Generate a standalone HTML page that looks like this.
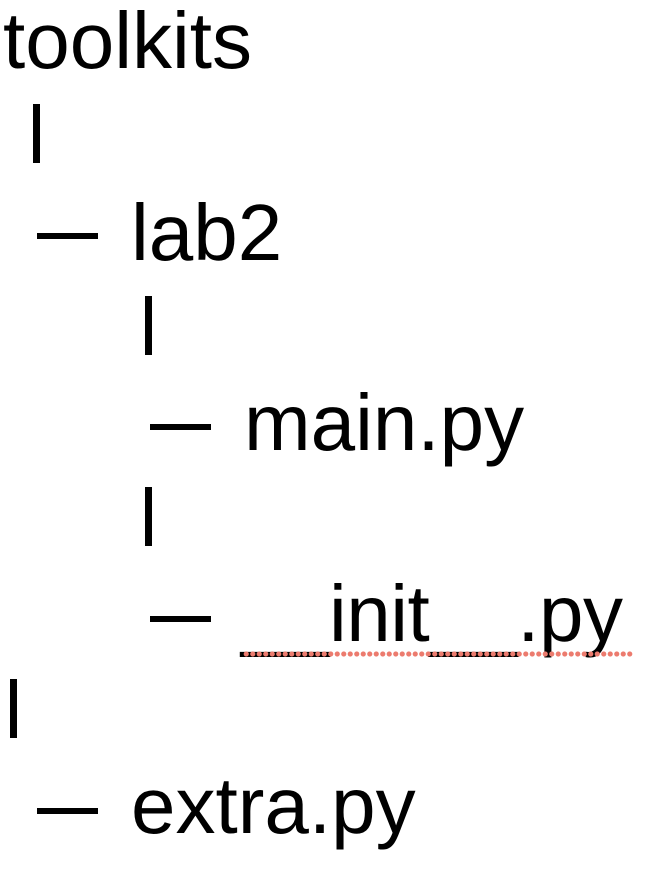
<!DOCTYPE html>
<html><head><meta charset="utf-8"><style>
html,body{margin:0;padding:0;background:#fff;width:658px;height:870px;overflow:hidden;position:relative}
.t{position:absolute;font-family:"Liberation Sans",Arial,sans-serif;font-size:80px;line-height:80px;color:#000;white-space:nowrap}
.bar{position:absolute;width:7px;height:59px;background:#000}
.dash{position:absolute;width:61px;height:6px;background:#000}
.dots{position:absolute;left:243px;top:651px;width:390px;height:6px;background-image:radial-gradient(circle,#ec7b6e 2.3px,transparent 2.8px);background-size:6.5px 6px;background-repeat:repeat-x}
</style></head><body>
<div class="t" style="left:3px;top:1px">toolkits</div>
<div class="bar" style="left:33px;top:104px"></div>
<div class="dash" style="left:37px;top:233px"></div>
<div class="t" style="left:131px;top:193px">lab2</div>
<div class="bar" style="left:145px;top:296px"></div>
<div class="dash" style="left:150px;top:424px"></div>
<div class="t" style="left:244px;top:383px">main.py</div>
<div class="bar" style="left:145px;top:487px"></div>
<div class="dash" style="left:150px;top:616px"></div>
<div class="t" style="left:241px;top:574px;letter-spacing:-0.5px">__init__.py</div>
<div class="dots"></div>
<div class="bar" style="left:10px;top:679px"></div>
<div class="dash" style="left:37px;top:808px"></div>
<div class="t" style="left:131px;top:766px">extra.py</div>
</body></html>
